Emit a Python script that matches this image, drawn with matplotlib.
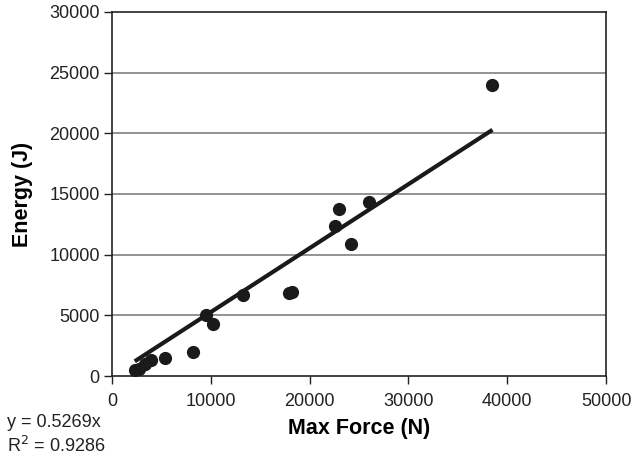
import numpy as np
import matplotlib
matplotlib.use("Agg")
import matplotlib.pyplot as plt

# max force (N) vs energy (J)
force = [2300, 2700, 3300, 3900, 5400, 8200, 9500, 10200, 13300,
         17900, 18200, 22600, 23000, 24200, 26000, 38500]
energy = [500, 600, 1000, 1300, 1500, 2000, 5000, 4300, 6700,
          6800, 6900, 12400, 13800, 10900, 14300, 24000]
slope = 0.5269
r2 = 0.9286

plt.rcParams['font.family'] = ['Liberation Sans', 'DejaVu Sans']

fig = plt.figure(figsize=(6.34, 4.59), dpi=100)
ax = fig.add_axes([0.1767, 0.1808, 0.956 - 0.1767, 0.974 - 0.1808])

ax.set_xlim(0, 50000)
ax.set_ylim(0, 30000)
ax.set_xticks(np.arange(0, 50001, 10000))
ax.set_yticks(np.arange(0, 30001, 5000))

for yv in np.arange(5000, 30000, 5000):
    ax.axhline(yv, color="#808080", lw=1.2, zorder=1)

xs = np.array([min(force), max(force)])
ax.plot(xs, slope * xs, color="#1a1a1a", lw=3, solid_capstyle="butt", zorder=2)
ax.plot(force, energy, "o", color="#1a1a1a", ms=8.5, zorder=3)

for s in ax.spines.values():
    s.set_linewidth(1.2)
    s.set_color("#222222")
ax.tick_params(direction="out", length=5.8, width=1, labelsize=13, colors="#222222")
ax.tick_params(axis="y", pad=3)
ax.tick_params(axis="x", pad=6.5)

ax.set_xlabel("Max Force (N)", fontsize=15.5, fontweight="bold", labelpad=6)
ax.set_ylabel("Energy (J)", fontsize=15.5, fontweight="bold")
ax.yaxis.set_label_coords(-0.16, 0.5)

fig.text(0.011, 0.07, "y = %.4fx" % slope, fontsize=13, color="#222222")
fig.text(0.011, 0.015, "R$^2$ = %.4f" % r2, fontsize=13, color="#222222")

fig.savefig("out.png", dpi=100)
